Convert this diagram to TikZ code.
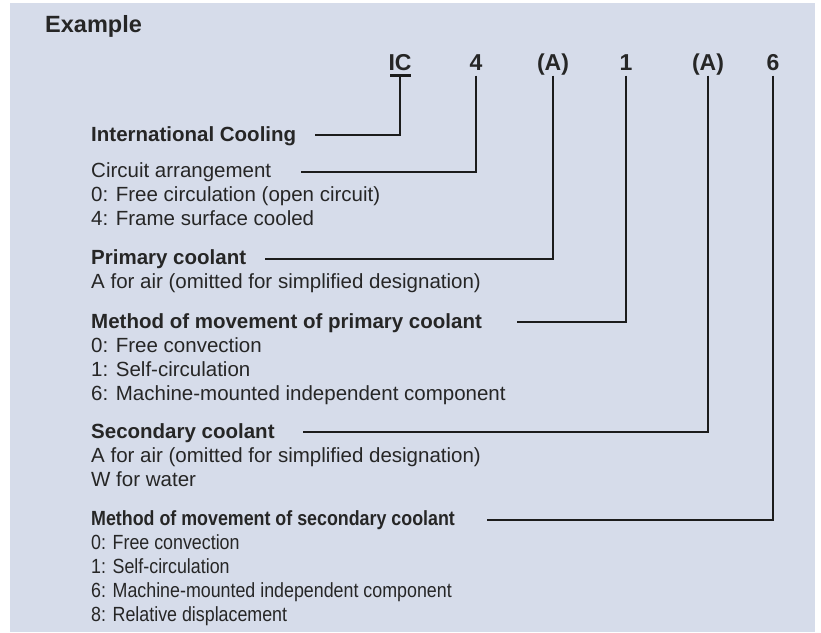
\documentclass[tikz,border=0pt]{standalone}
\usepackage{fontspec}
\setmainfont{Liberation Sans}
\newfontfamily\condfont[FakeStretch=0.87]{Liberation Sans}
\definecolor{bgblue}{HTML}{D6DCEA}
\definecolor{inktext}{HTML}{262626}
\definecolor{inkline}{HTML}{1C1C1C}
\tikzset{
  lbl/.style={inner sep=0pt, anchor=base west, text=inktext, font=\fontsize{20.5}{24}\selectfont},
  lblb/.style={lbl, font=\fontsize{20.5}{24}\selectfont\bfseries},
  clbl/.style={lbl, font=\fontsize{20.5}{24}\selectfont\condfont},
  clblb/.style={lbl, font=\fontsize{20.5}{24}\selectfont\condfont\bfseries},
  code/.style={inner sep=0pt, anchor=base, text=inktext, font=\fontsize{23}{26}\selectfont\bfseries},
  conn/.style={draw=inkline, line width=2.4pt, line join=miter},
}
\begin{document}
\begin{tikzpicture}[x=1pt,y=-1pt]
\fill[white] (0,0) rectangle (821,632);
\fill[bgblue] (10,3) rectangle (815,632);
\useasboundingbox (0,0) rectangle (821,632);

\node[inner sep=0pt, anchor=base west, text=inktext, font=\fontsize{23.5}{26}\selectfont\bfseries] (ex) at (45,32) {Example};

% code letters
\node[code] (cIC) at (400,70) {IC};
\node[code] (c4) at (476,70) {4};
\node[code] (cA1) at (553,70) {(A)};
\node[code] (c1) at (626,70) {1};
\node[code] (cA2) at (708,70) {(A)};
\node[code] (c6) at (773,70) {6};

% labels
\node[lblb] (t1) at (91,141) {International Cooling};

\node[lbl] (t2) at (91,177) {Circuit arrangement};
\node[lbl] (t2a) at (91,201) {0: Free circulation (open circuit)};
\node[lbl] (t2b) at (91,225) {4: Frame surface cooled};

\node[lblb] (t3) at (91,264) {Primary coolant};
\node[lbl] (t3a) at (91,288) {A for air (omitted for simplified designation)};

\node[lblb] (t4) at (91,328) {Method of movement of primary coolant};
\node[lbl] (t4a) at (91,352) {0: Free convection};
\node[lbl] (t4b) at (91,376) {1: Self-circulation};
\node[lbl] (t4c) at (91,400) {6: Machine-mounted independent component};

\node[lblb] (t5) at (91,438) {Secondary coolant};
\node[lbl] (t5a) at (91,462) {A for air (omitted for simplified designation)};
\node[lbl] (t5b) at (91,486) {W for water};

\node[clblb] (t6) at (91,525) {Method of movement of secondary coolant};
\node[clbl] (t6a) at (91,549) {0: Free convection};
\node[clbl] (t6b) at (91,573) {1: Self-circulation};
\node[clbl] (t6c) at (91,597) {6: Machine-mounted independent component};
\node[clbl] (t6d) at (91,621) {8: Relative displacement};

% free ends of connectors
\coordinate (e1) at (315,135);
\coordinate (e2) at (301,172);
\coordinate (e3) at (265,259);
\coordinate (e4) at (517,322);
\coordinate (e5) at (303,432);
\coordinate (e6) at (487,520);

% connectors
\draw[conn] ([xshift=-10pt,yshift=-5.5pt]cIC.base) -- ([xshift=11pt,yshift=-5.5pt]cIC.base);
\draw[conn] ([yshift=-5.5pt]cIC.base) |- (e1);
\draw[conn] ([yshift=-5.5pt]c4.base) |- (e2);
\draw[conn] ([yshift=-5.5pt]cA1.base) |- (e3);
\draw[conn] ([yshift=-5.5pt]c1.base) |- (e4);
\draw[conn] ([yshift=-5.5pt]cA2.base) |- (e5);
\draw[conn] ([yshift=-5.5pt]c6.base) |- (e6);
\end{tikzpicture}
\end{document}
